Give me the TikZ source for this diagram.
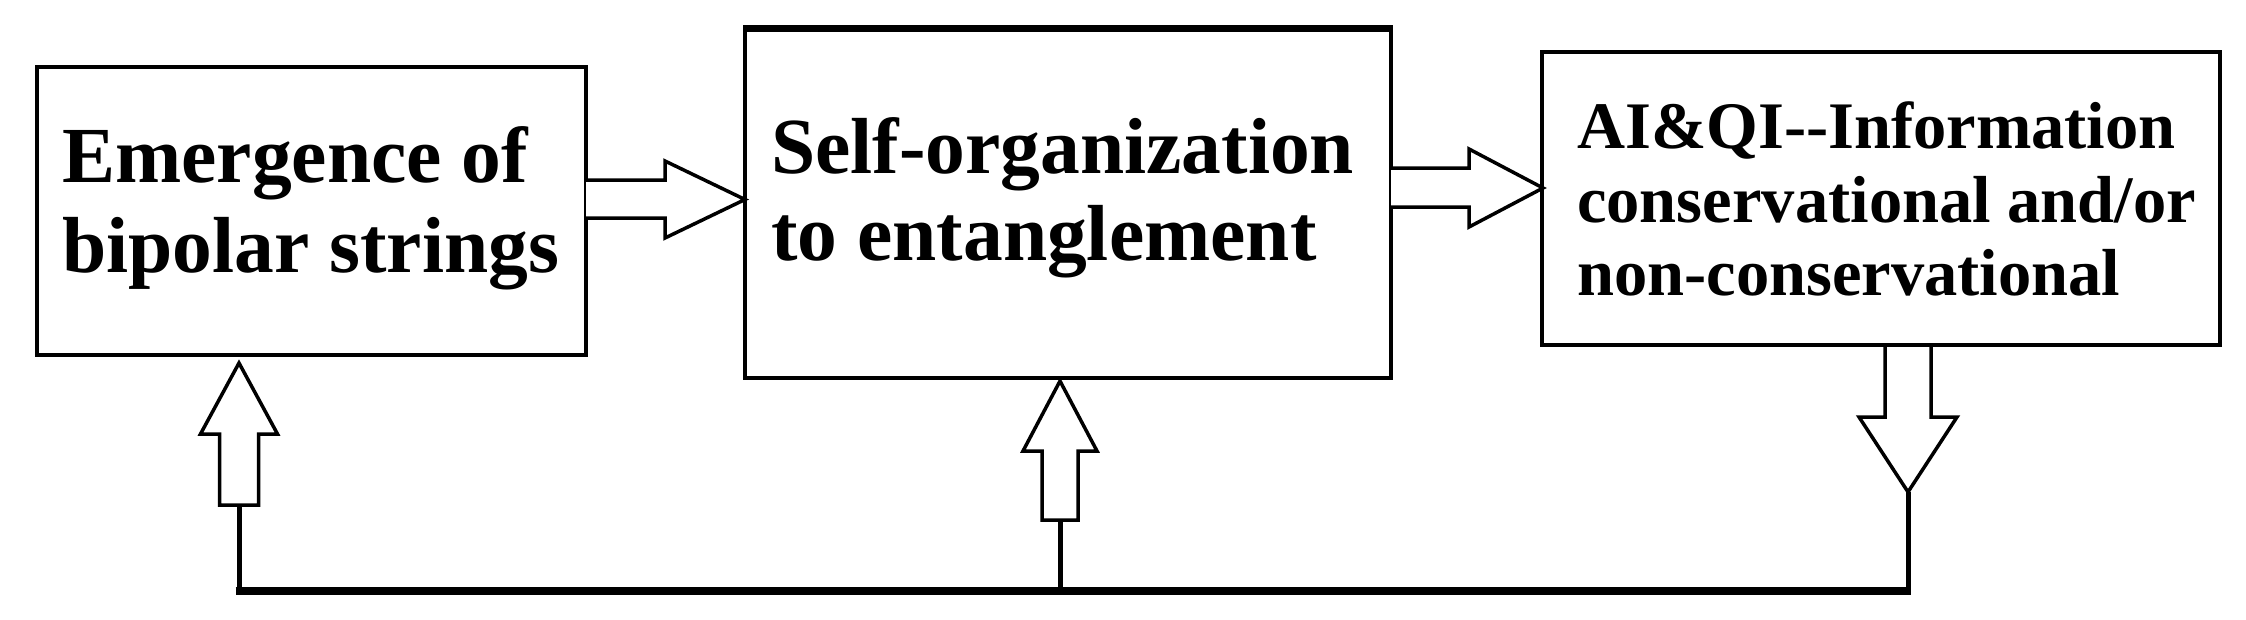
\documentclass[tikz,border=0pt]{standalone}
\usepackage{fontspec}
\setmainfont{Liberation Serif}
\begin{document}
\begin{tikzpicture}[x=1pt,y=-1pt,
  box/.style={draw, line width=4pt, inner sep=0pt},
  lbl/.style={anchor=base west, inner sep=0pt, font=\bfseries\fontsize{79.5}{88}\selectfont},
  lbls/.style={anchor=base west, inner sep=0pt, font=\bfseries\fontsize{66.5}{73}\selectfont},
  barrow/.style={draw, line width=3.5pt, fill=white, line join=miter},
  link/.style={line width=5pt},
  bus/.style={line width=8pt}]
\fill[white] (0,0) rectangle (2246,619);
\useasboundingbox (0,0) rectangle (2246,619);

% boxes
\node[box, minimum width=549pt, minimum height=288pt] (b1) at (311.5,211) {};
\node[box, minimum width=646pt, minimum height=348pt] (b2) at (1068,204) {};
\node[box, minimum width=678pt, minimum height=293pt] (b3) at (1881,198.5) {};
\draw[line width=7pt] (b2.north west) -- (b2.north east);

% texts
\node[lbl] (t1a) at (62,182) {Emergence of};
\node[lbl] (t1b) at (62,272) {bipolar strings};
\node[lbl] (t2a) at (771,173) {Self-organization};
\node[lbl] (t2b) at (771,260) {to entanglement};
\node[lbls] (t3a) at (1577,148) {AI\&QI{-}{-}Information};
\node[lbls] (t3b) at (1577,222) {conservational and/or};
\node[lbls] (t3c) at (1577,295) {non-conservational};

% horizontal block arrows
\draw[barrow] (586,180) -- (665,180) -- (665,161) -- (745,199.5) -- (665,238) -- (665,218) -- (586,218);
\draw[barrow] (1391,168) -- (1469,168) -- (1469,149) -- (1543,188) -- (1469,227) -- (1469,207) -- (1391,207);

% bottom feedback
\coordinate (c1) at (239,591);
\coordinate (c2) at (1060,591);
\coordinate (c3) at (1908,591);
\draw[bus] (235.5,591) -- (1910.5,591);
\draw[link] (239,505) -- (c1);
\draw[link] (1060,520) -- (c2);
\draw[link] (1908,492) -- (c3);

% vertical block arrows
\draw[barrow] (219.5,505) -- (219.5,434) -- (200.5,434) -- (239,363) -- (277.5,434) -- (258.5,434) -- (258.5,505) -- cycle;
\draw[barrow] (1042,520) -- (1042,451) -- (1023,451) -- (1060,381) -- (1097,451) -- (1078,451) -- (1078,520) -- cycle;
\draw[barrow] (1885,347) -- (1885,417) -- (1859,417) -- (1908,492) -- (1957,417) -- (1931,417) -- (1931,347);
\end{tikzpicture}
\end{document}
